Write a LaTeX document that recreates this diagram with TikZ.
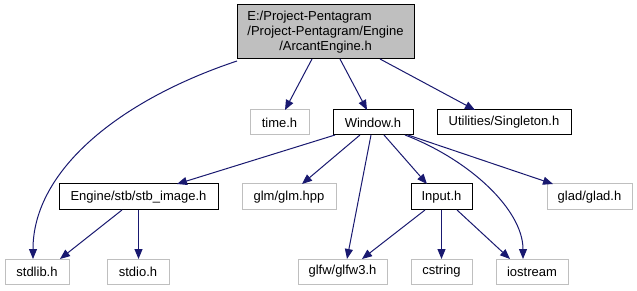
\documentclass[tikz,border=0pt]{standalone}
\usepackage{fontspec}
\setmainfont{Liberation Sans}
\usetikzlibrary{arrows.meta}
\definecolor{edgeblue}{HTML}{191970}
\definecolor{greyseventyfive}{HTML}{BFBFBF}
\begin{document}
\begin{tikzpicture}[x=1pt,y=-1pt,
  hdr/.style={draw=black,line width=1pt,fill=white,inner sep=0pt,outer sep=0pt,
    minimum height=25pt,font=\fontsize{13}{15}\selectfont},
  syshdr/.style={hdr,draw=greyseventyfive},
  inc/.style={draw=edgeblue,line width=1pt,-{Triangle[length=10pt,width=8pt]},fill=none},
]
\useasboundingbox[fill=white] (0,0) rectangle (637,291);

% main file (first line flush left with the second)
\node[hdr,fill=greyseventyfive,minimum width=177pt,minimum height=54pt,align=center]
  (top) at (325.5,32)
  {\rlap{E:/Project-Pentagram}\phantom{/Project-Pentagram/Engine}\\/Project-Pentagram/Engine\\/ArcantEngine.h};

% second row
\node[syshdr,minimum width=59pt]  (time)   at (279.5,122.5) {time.h};
\node[hdr,minimum width=80pt]     (win)    at (373,122.5)   {Window.h};
\node[hdr,minimum width=134pt]    (single) at (504,122.5)   {Utilities/Singleton.h};

% third row
\node[hdr,minimum width=159pt,minimum height=26pt] (stb)   at (138.5,197) {Engine/stb/stb\_image.h};
\node[syshdr,minimum width=94pt,minimum height=26pt] (glm) at (289,197)   {glm/glm.hpp};
\node[hdr,minimum width=61pt,minimum height=26pt] (input)  at (441.5,197) {Input.h};
\node[syshdr,minimum width=85pt,minimum height=26pt] (glad) at (589.5,197) {glad/glad.h};

% bottom row
\node[syshdr,minimum width=64pt] (stdlib)   at (37,271.5)    {stdlib.h};
\node[syshdr,minimum width=62pt] (stdio)    at (138,271.5)   {stdio.h};
\node[syshdr,minimum width=89pt] (glfw)     at (342.5,271.5) {glfw/glfw3.h};
\node[syshdr,minimum width=61pt] (cstring)  at (441.5,271.5) {cstring};
\node[syshdr,minimum width=72pt] (iostream) at (532,271.5)   {iostream};

% includes of the main file
\draw[inc] ([yshift=-2pt]top.south west) .. controls (120,100) and (33,170) .. ([xshift=-4pt]stdlib.north);
\draw[inc] ([xshift=-13.5pt]top.south) -- ([xshift=5.5pt]time.north);
\draw[inc] ([xshift=14.5pt]top.south) -- ([xshift=-6pt]win.north);
\draw[inc] ([xshift=54.5pt]top.south) -- ([xshift=-29pt]single.north);

% includes of Window.h
\draw[inc] ([xshift=2pt]win.south west) -- ([xshift=38.5pt]stb.north);
\draw[inc] ([xshift=-13pt]win.south) -- ([xshift=13pt]glm.north);
\draw[inc] ([xshift=-2pt]win.south) -- ([xshift=4.5pt]glfw.north);
\draw[inc] ([xshift=11pt]win.south) -- ([xshift=-14.5pt]input.north);
\draw[inc] ([xshift=32pt]win.south) .. controls (470,160) and (523,210) .. ([xshift=-9pt]iostream.north);
\draw[inc] ([xshift=35pt]win.south) -- ([xshift=-36.5pt]glad.north);

% includes of Input.h
\draw[inc] ([xshift=-16.5pt]input.south) -- ([xshift=19.5pt]glfw.north);
\draw[inc] (input.south) -- (cstring.north);
\draw[inc] ([xshift=15.5pt]input.south) -- ([xshift=-22pt]iostream.north);

% includes of stb_image.h
\draw[inc] ([xshift=-16.5pt]stb.south) -- ([xshift=23pt]stdlib.north);
\draw[inc] (stb.south) -- ([xshift=0.5pt]stdio.north);
\end{tikzpicture}
\end{document}
